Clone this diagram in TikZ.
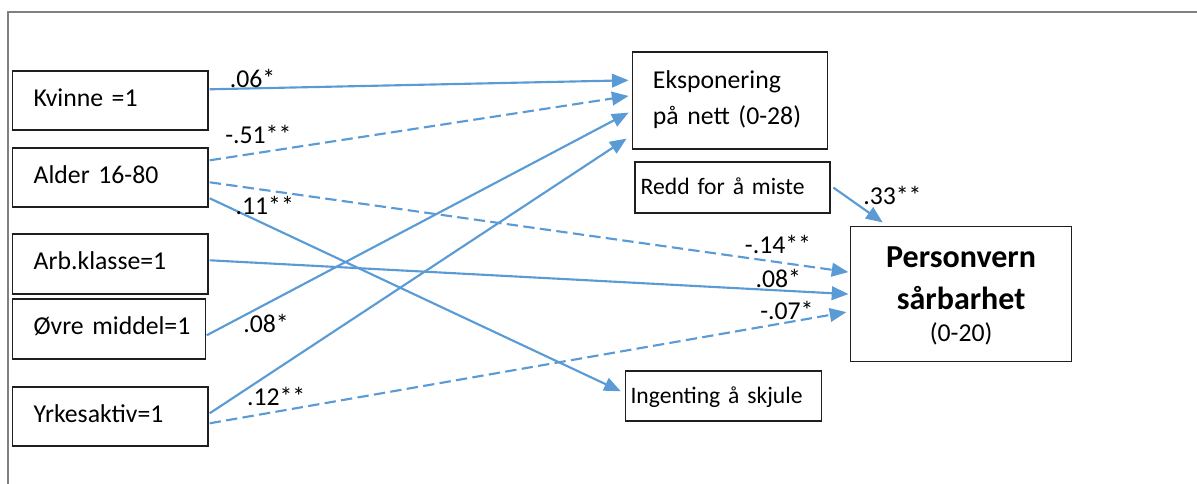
\documentclass[tikz,border=0pt]{standalone}
\usepackage{fontspec}
\setmainfont{Carlito}
\usetikzlibrary{arrows.meta,calc}
\definecolor{arrowblue}{HTML}{5B9BD5}
\definecolor{framegray}{HTML}{808080}
\definecolor{boxline}{HTML}{1F1F1F}
\begin{document}
\begin{tikzpicture}[x=0.75pt,y=-0.75pt,
  box/.style={draw=boxline,line width=1.05pt,rectangle,inner xsep=0pt,inner ysep=0pt,align=left},
  mainfont/.style={font=\fontsize{19.3}{23}\selectfont},
  smallfont/.style={font=\fontsize{17.7}{21}\selectfont},
  leftbox/.style={box,mainfont,text width=146.4pt,minimum width=146.4pt,minimum height=44.25pt,text height=13pt,text depth=4pt},
  lab/.style={anchor=base west,inner sep=0pt,font=\fontsize{19.3}{23}\selectfont},
  conn/.style={draw=arrowblue,line width=1.6pt,-{Triangle[length=12.5pt,width=10.2pt]}},
  dashconn/.style={conn,dash pattern=on 8.5pt off 4pt},
]
\useasboundingbox (0,0) rectangle (1197,484);
% frame
\draw[framegray,line width=1.6pt] (8,484) -- (8,12) -- (1197,12);

% left boxes
\node[leftbox] (kvinne) at (110.2,100.5) {\hspace*{15.8pt}Kvinne =1};
\node[leftbox] (alder) at (110.2,177.5) {\hspace*{15.8pt}Alder 16-80};
\node[leftbox,minimum height=45pt] (arb) at (110.2,264) {\hspace*{15.8pt}Arb.klasse=1};
\node[leftbox,minimum height=45pt,text width=144.75pt,minimum width=144.75pt] (ovre) at (109,329) {\hspace*{15.8pt}Øvre middel=1};
\node[leftbox] (yrke) at (110.2,416.5) {\hspace*{15.8pt}Yrkesaktiv=1};

% right boxes
\node[box,font=\fontsize{19.3}{27}\selectfont,text width=146.25pt,minimum width=146.25pt,minimum height=72.75pt] (eksp) at (730.2,100.5)
  {\hspace*{15.2pt}\rule{0pt}{14pt}Eksponering\\\hspace*{15.2pt}på nett (0-28)\rule[-5.2pt]{0pt}{5.2pt}};
\node[box,smallfont,text width=146.25pt,minimum width=146.25pt,minimum height=38.25pt,text height=12pt,text depth=1.2pt] (redd) at (732.5,187.5)
  {\hspace*{4.3pt}Redd for å miste};
\node[box,align=center,font=\fontsize{19.3}{24}\selectfont,text width=165.75pt,minimum width=165.75pt,minimum height=101.25pt] (pv) at (961.1,294.3)
  {\rule{0pt}{22pt}{\bfseries\fontsize{24}{24}\selectfont Personvern}\\[7.7pt]{\bfseries\fontsize{24}{24}\selectfont sårbarhet}\\(0-20)\rule[-6.2pt]{0pt}{6.2pt}};
\node[box,smallfont,text width=147pt,minimum width=147pt,minimum height=37.5pt,text height=12pt,text depth=1.2pt] (ing) at (723.5,396)
  {\hspace*{3.75pt}Ingenting å skjule};

% connectors
\draw[conn] ($(kvinne.north east)+(1.2,19)$) -- ($(eksp.north west)+(-3.4,29)$);
\draw[dashconn] ($(alder.north east)+(1.2,13)$) -- ($(eksp.north west)+(-3.4,44.7)$);
\draw[dashconn] ($(alder.north east)+(1.2,35)$) -- ($(pv.north west)+(-1.5,46)$);
\draw[conn] ($(alder.north east)+(1.2,51)$) -- ($(ing.north west)+(-4,21)$);
\draw[conn] ($(arb.north east)+(1.2,27)$) -- ($(pv.north west)+(-1.5,68)$);
\draw[conn] ($(ovre.north east)+(0.5,37)$) -- ($(eksp.north west)+(-3.4,61.3)$);
\draw[conn] ($(yrke.north east)+(1.2,27)$) -- ($(eksp.north west)+(-5.4,87.3)$);
\draw[dashconn] ($(yrke.north east)+(1.2,37)$) -- ($(pv.north west)+(-3.5,86)$);
\draw[conn] ($(redd.north east)+(2.7,26.3)$) -- ($(pv.north west)+(32.8,-3.7)$);

% labels
\node[lab] (l06) at (229.6,88) {.06*};
\node[lab] (l51) at (225,144) {-.51**};
\node[lab] (l11) at (235.4,215) {.11**};
\node[lab] (l08a) at (243,332.7) {.08*};
\node[lab] (l12) at (246.8,406) {.12**};
\node[lab] (l14) at (744.7,254) {-.14**};
\node[lab] (l08b) at (755.3,287.3) {.08*};
\node[lab] (l07) at (760,319.3) {-.07*};
\node[lab] (l33) at (863,205) {.33**};
\end{tikzpicture}
\end{document}
